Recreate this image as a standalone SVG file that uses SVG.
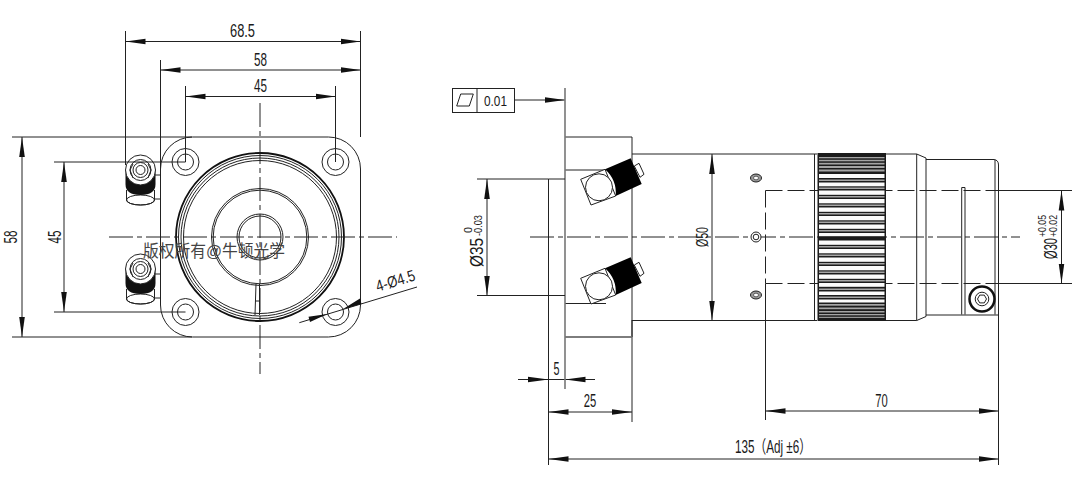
<svg xmlns="http://www.w3.org/2000/svg" width="1074" height="478" viewBox="0 0 1074 478">
<style>
text{font-family:"Liberation Sans","Noto Sans CJK SC",sans-serif;fill:#1a1a1a;font-size:17.500px;text-anchor:middle}
.s{fill:none;stroke:#222;stroke-width:1}
.t{fill:none;stroke:#111;stroke-width:1.8}
.g{fill:none;stroke:#777;stroke-width:1.6}
.c{fill:none;stroke:#222;stroke-width:1;stroke-dasharray:24 4 5 4}
.d{fill:none;stroke:#222;stroke-width:1;stroke-dasharray:17 5}
.a{fill:none;stroke:#222;stroke-width:1;marker-start:url(#ar);marker-end:url(#ar)}
.e{fill:none;stroke:#222;stroke-width:1;marker-end:url(#ar)}
.k{fill:#111;stroke:none}
.w{fill:#fff;stroke:#222;stroke-width:1}
.sm{font-size:11.500px}
.kb rect{x:819px;width:65.500px}
</style>
<defs>
<marker id="ar" markerUnits="userSpaceOnUse" markerWidth="22" markerHeight="8" refX="20" refY="3" orient="auto-start-reverse" viewBox="0 0 22 6"><path d="M0 0.2L20 3L0 5.8Z" fill="#111"/></marker>
<g id="fit">
<path class="s" d="M126.500 190V200A14 5 0 0 0 154.500 200V190"/>
<ellipse class="s" cx="140.500" cy="200" rx="14" ry="5"/>
<path class="k" d="M125.500 170H155.500V184Q155.500 195 140.500 195Q125.500 195 125.500 184Z"/>
<circle class="w" cx="140.500" cy="170" r="15"/>
<circle class="s" cx="140.500" cy="170" r="10.500"/>
<circle class="s" cx="140.500" cy="170" r="7.500"/>
<circle class="s" cx="140.500" cy="170" r="4.500"/>
<path class="s" d="M133 164L130 170L133 178M148 164L151 170L148 178M155 175H160.500M155 199H160.500"/>
</g>
<g id="mh"><circle class="s" cx="0" cy="0" r="13.500"/><circle class="s" cx="0" cy="0" r="8"/></g>
<g id="pin">
<path class="w" d="M580.700 179.300L605 169.300L615.700 196L591 205Z"/>
<circle class="w" cx="599" cy="187.300" r="13.500"/>
<path class="w" d="M634.300 166L639 163.300L644 174.300L640 177.300Z"/>
<path fill="#000" d="M605 169.300L630.700 158.300L641.700 184L615.700 196Q617 180 605 169.300Z"/>
</g>
<g id="sh"><ellipse cx="0" cy="0" rx="5.500" ry="4" fill="#999" stroke="#222"/><ellipse cx="0" cy="0" rx="2.500" ry="1.800" fill="#fff" stroke="#222" stroke-width=".6"/></g>
</defs>
<rect width="1074" height="478" fill="#fff"/>
<g id="front-view">
<path class="s" d="M160.500 169A32 32 0 0 1 192.500 137H328.500A32 32 0 0 1 360.500 169V305A32 32 0 0 1 328.500 337H192.500A32 32 0 0 1 160.500 305Z"/>
<use href="#mh" x="185.500" y="162"/><use href="#mh" x="335.500" y="162"/><use href="#mh" x="185.500" y="312"/><use href="#mh" x="335.500" y="312"/>
<circle cx="260" cy="237" r="84" class="t"/><circle cx="260" cy="237" r="81.500" class="s" stroke="#444"/><circle cx="260" cy="237" r="79" class="s"/><circle cx="260" cy="237" r="76.500" class="s"/>
<circle cx="260" cy="237" r="48.500" class="s"/><circle cx="260" cy="237" r="46.800" class="s"/>
<circle cx="260" cy="237" r="23" class="s"/><circle cx="260" cy="237" r="21" class="s"/>
<path class="s" d="M256 284L255 315M259.500 284V315M255.500 301H259.500"/>
<use href="#fit"/><use href="#fit" y="99"/>
<text x="214" y="257" style="font-size:16.500px;fill:#444" textLength="142" lengthAdjust="spacingAndGlyphs">版权所有@牛顿光学</text>
</g>
<g id="connectors">
<path class="c" d="M260 103V374M109 237H397M530 237H1020"/>
<path class="d" d="M765.500 190.500H1000M765.500 283.500H1000M765.500 190.500V283.500"/>
<path class="s" d="M125.500 31V165M360.500 31V137M160.500 60V169M185.500 86V162M335.500 86V162M12 137H192M12 337H192M54 162H185.500M54 312H185.500"/>
<path class="a" d="M125.500 41.500H360.500"/><path class="a" d="M160.500 70H360.500"/><path class="a" d="M185.500 96.500H335.500"/>
<path class="a" d="M22 137V337"/><path class="a" d="M64 162V312"/>
<path class="s" d="M299.300 322.700L417 287"/>
<path fill="#111" d="M327.300 314L308.500 316.800L310 322ZM342.700 309.300L361.500 304L360 298.500Z"/>
<path class="s" d="M477 179H548.500M477 295.500H548.500M548.500 179V465M632 320V422M765.500 283.500V420M998.500 315V465M1000 190.500H1072M1000 283.500H1072"/>
<path class="a" d="M487 179V295.500"/><path class="a" d="M712 154V320.500"/><path class="a" d="M1061.500 190.500V283.500"/>
<path class="a" d="M548.500 412H632"/><path class="a" d="M765.500 411H998.500"/><path class="a" d="M548.500 459H998.500"/>
<path class="s" d="M518 379.500H595"/>
<path d="M548.500 379.500L528 376.800V382.200ZM565 379.500L585.500 376.800V382.200Z" fill="#111"/>
<path class="e" d="M514.500 100H565"/>
</g>
<g id="side-view">
<path class="s" d="M565 137H632V337H565M565 170H606M565 303.500H606"/>
<path class="g" d="M565 88V389M565 337H632"/>
<path class="s" d="M548.500 179H565M548.500 295.500H565"/>
<path class="s" d="M632 154H817M632 320.500H817M814.500 154V320.500"/>
<path class="s" d="M886 154H916.700L926 158V316.500L916.700 320.500H886M916.700 154V320.500"/>
<path class="s" d="M926 159.500H994Q998.500 160 998.500 165V315H926M995 160V314.500"/>
<path class="s" d="M961.700 314.500V187.500H965V314.500"/>
<circle cx="982" cy="299" r="12.500" fill="#fff" stroke="#111" stroke-width="2.500"/>
<circle cx="982" cy="299" r="6.800" class="s"/>
<path class="s" d="M977.500 299L979.700 295.100H984.300L986.500 299L984.300 302.900H979.700Z"/>
<use href="#pin"/><use href="#pin" y="99"/>
<use href="#sh" x="756" y="178"/><circle cx="756" cy="237" r="5" class="w"/><circle cx="756" cy="237" r="2.800" class="s"/><use href="#sh" x="756" y="295"/>
<g id="knurl">
<rect x="817.500" y="153" width="68.500" height="168" fill="#1c1c1c"/>
<g fill="#a5a5a5" class="kb">
<rect y="157" height="1.300"/><rect y="159.800" height="1.500"/><rect y="162.800" height="1.700"/><rect y="166" height="2"/><rect y="169.500" height="2"/><rect y="179.500" height="1.500"/><rect y="187.500" height="1.500"/><rect y="196" height="1.500"/><rect y="204.500" height="1.500"/><rect y="213" height="1.500"/><rect y="221.500" height="1.500"/><rect y="230" height="1.500"/><rect y="246" height="1.500"/><rect y="254.500" height="1.500"/><rect y="263" height="1.500"/><rect y="271.500" height="1.500"/><rect y="280" height="1.500"/><rect y="288.500" height="1.500"/><rect y="296.500" height="1.500"/><rect y="304" height="1.700"/><rect y="307.500" height="1.700"/><rect y="311" height="1.500"/><rect y="314" height="1.300"/><rect y="316.800" height="1.100"/>
</g>
<g fill="#fbfbfb" class="kb">
<rect y="174" height="4"/><rect y="182.500" height="3.800"/><rect y="190.500" height="4.300"/><rect y="199" height="4.300"/><rect y="207.500" height="4.300"/><rect y="216" height="4.300"/><rect y="224.500" height="4.300"/><rect y="233" height="3.200"/><rect y="240.500" height="4.300"/><rect y="249" height="4.300"/><rect y="257.500" height="4.300"/><rect y="266" height="4.300"/><rect y="274.500" height="4.300"/><rect y="283" height="3.800"/><rect y="291.500" height="3.500"/><rect y="299.500" height="3"/>
</g>
</g>
</g>
<g id="tolerance-frame">
<rect x="452.500" y="88.500" width="62" height="24" class="s"/>
<path class="s" d="M477 88.500V112.500M460.700 94H473.300L469.300 106H456.700Z"/>
<text x="495.500" y="106" style="font-size:15.500px" textLength="23" lengthAdjust="spacingAndGlyphs">0.01</text>
</g>
<g id="labels">
<text x="242.500" y="37" textLength="25" lengthAdjust="spacingAndGlyphs">68.5</text>
<text x="260.500" y="66" textLength="13" lengthAdjust="spacingAndGlyphs">58</text>
<text x="260.500" y="92" textLength="13" lengthAdjust="spacingAndGlyphs">45</text>
<text transform="translate(17,237) rotate(-90)" textLength="13" lengthAdjust="spacingAndGlyphs">58</text>
<text transform="translate(61,237) rotate(-90)" textLength="13" lengthAdjust="spacingAndGlyphs">45</text>
<text transform="translate(397,286) rotate(-16.900)" style="font-size:16px" textLength="40" lengthAdjust="spacingAndGlyphs">4-Ø4.5</text>
<text transform="translate(483,252.500) rotate(-90)" textLength="29" lengthAdjust="spacingAndGlyphs">Ø35</text>
<text transform="translate(472,230) rotate(-90)" class="sm" textLength="6" lengthAdjust="spacingAndGlyphs">0</text>
<text transform="translate(482,225.500) rotate(-90)" class="sm" textLength="21" lengthAdjust="spacingAndGlyphs">-0.03</text>
<text transform="translate(708,237) rotate(-90)" style="font-size:16.500px" textLength="20" lengthAdjust="spacingAndGlyphs">Ø50</text>
<text transform="translate(1057,248.500) rotate(-90)" textLength="21" lengthAdjust="spacingAndGlyphs">Ø30</text>
<text transform="translate(1046,226) rotate(-90)" class="sm" textLength="22" lengthAdjust="spacingAndGlyphs">+0.05</text>
<text transform="translate(1057,226) rotate(-90)" class="sm" textLength="22" lengthAdjust="spacingAndGlyphs">+0.02</text>
<text x="556.500" y="375" textLength="6" lengthAdjust="spacingAndGlyphs">5</text>
<text x="590" y="407" textLength="12.500" lengthAdjust="spacingAndGlyphs">25</text>
<text x="881.500" y="407" textLength="12.500" lengthAdjust="spacingAndGlyphs">70</text>
<text x="773" y="453" textLength="76" lengthAdjust="spacingAndGlyphs">135（Adj ±6）</text>
</g>
</svg>
